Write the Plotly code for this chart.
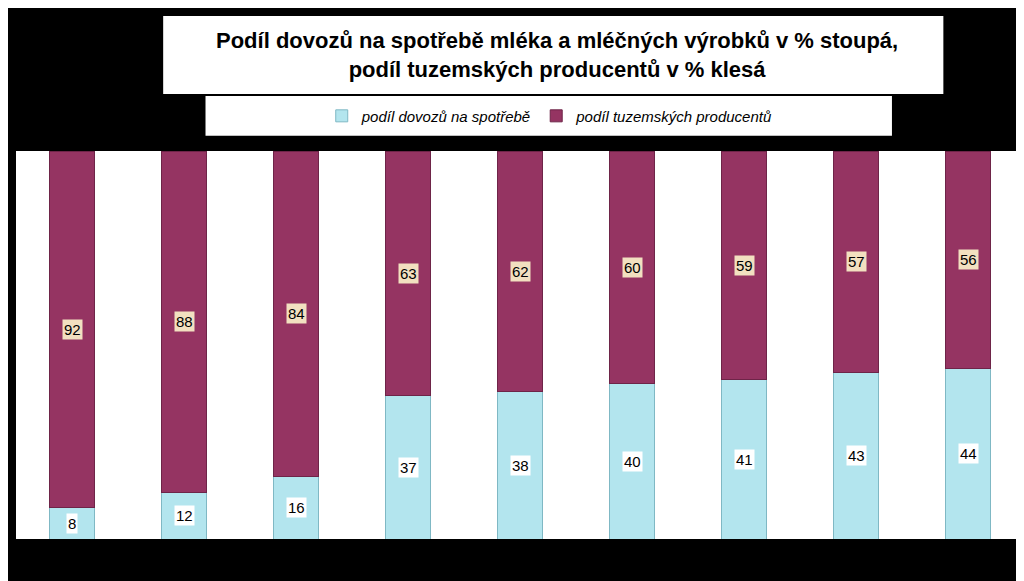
import plotly.graph_objects as go

categories = ["r1", "r2", "r3", "r4", "r5", "r6", "r7", "r8", "r9"]
dovoz = [8, 12, 16, 37, 38, 40, 41, 43, 44]
tuzemsko = [92, 88, 84, 63, 62, 60, 59, 57, 56]

fig = go.Figure()
fig.add_trace(go.Bar(x=categories, y=dovoz, name="<i>podíl dovozů na spotřebě</i>",
                     marker=dict(color="#b3e5ee", line=dict(color="#7fb8c4", width=1)),
                     width=0.4))
fig.add_trace(go.Bar(x=categories, y=tuzemsko, name="<i>podíl tuzemských producentů</i>",
                     marker=dict(color="#953462", line=dict(color="#6e2448", width=1)),
                     width=0.4))

annotations = []
for c, d, t in zip(categories, dovoz, tuzemsko):
    annotations.append(dict(x=c, y=d / 2, text=str(d), showarrow=False, bgcolor="white",
                            font=dict(size=15, color="black", family="Arial")))
    annotations.append(dict(x=c, y=d + t / 2, text=str(t), showarrow=False, bgcolor="#f2e0c0",
                            font=dict(size=15, color="black", family="Arial")))
annotations.append(dict(xref="paper", yref="paper", x=0.537, y=1.247, yanchor="middle",
                        showarrow=False,
                        text="<b>Podíl dovozů na spotřebě mléka a mléčných výrobků v % stoupá,<br>podíl tuzemských producentů v % klesá</b>",
                        font=dict(size=22, color="black", family="Arial")))

shapes = [
    dict(type="rect", xref="paper", yref="paper", x0=0.146, x1=0.920, y0=1.147, y1=1.348,
         fillcolor="white", line=dict(width=0), layer="below"),
    dict(type="rect", xref="paper", yref="paper", x0=0.188, x1=0.869, y0=1.039, y1=1.142,
         fillcolor="white", line=dict(width=0), layer="below"),
]

fig.update_layout(
    barmode="stack",
    width=1024, height=581,
    margin=dict(l=8, r=8, t=143, b=50, autoexpand=False),
    paper_bgcolor="black", plot_bgcolor="white",
    showlegend=True,
    legend=dict(orientation="h", x=0.53, xanchor="center", y=1.09, yanchor="middle",
                traceorder="normal", itemwidth=30,
                bgcolor="rgba(0,0,0,0)", font=dict(size=15, color="black", family="Arial")),
    annotations=annotations, shapes=shapes,
    xaxis=dict(type="category", showticklabels=False, showgrid=False),
    yaxis=dict(range=[0, 100], showticklabels=False, showgrid=False, zeroline=False),
    font=dict(family="Arial"),
)

fig.write_html("out.html")
